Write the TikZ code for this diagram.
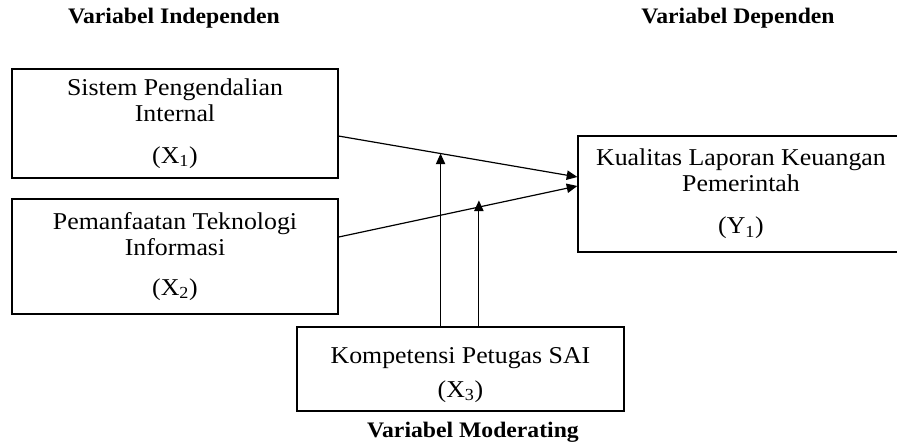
\documentclass[tikz,border=0pt]{standalone}
\usepackage{fontspec}
\setmainfont{Liberation Serif}[FakeStretch=1.07]
\usetikzlibrary{arrows.meta}
\begin{document}
\begin{tikzpicture}[x=0.75pt, y=-0.75pt, line width=0.9pt, >={Triangle[length=8pt,width=7pt]},
        varbox/.style={draw, rectangle, align=center, inner sep=0pt, minimum width=244.5pt,
            font=\fontsize{18.1pt}{19.5pt}\selectfont},
        heading/.style={anchor=base, font=\fontsize{16.6pt}{18pt}\selectfont\bfseries}]
        \useasboundingbox (0,0) rectangle (897,443);

        % Headings
        \node[heading] (indep) at (174,23) {Variabel Independen};
        \node[heading] (dep) at (738,23) {Variabel Dependen};
        \node[heading] (moder) at (473,437) {Variabel Moderating};

        % Nodes
        \node[varbox, minimum height=81.75pt] (X1) at (175,123.5) {Sistem Pengendalian\\Internal\\[12pt](X\textsubscript{1})};
        \node[varbox, minimum height=86.25pt] (X2) at (175,256.5) {Pemanfaatan Teknologi\\Informasi\\[10pt](X\textsubscript{2})};
        \node[varbox, minimum height=87pt] (Y1) at (741,194) {Kualitas Laporan Keuangan\\Pemerintah\\[12pt](Y\textsubscript{1})};
        \node[varbox, minimum height=63pt, minimum width=245.25pt, text height=46pt] (X3) at (460.5,369) {Kompetensi Petugas SAI\\[6pt](X\textsubscript{3})};

        % Arrows
        \draw[->] ([yshift=-9.4pt]X1.east) -- coordinate[pos=0.427] (m1) ([yshift=12.75pt]Y1.west);
        \draw[->] ([yshift=14.6pt]X2.east) -- coordinate[pos=0.5875] (m2) ([yshift=6pt]Y1.west);

        % Moderating links
        \draw[->] (X3.north -| m1) -- (m1);
        \draw[->] (X3.north -| m2) -- ([yshift=5pt]m2);
    \end{tikzpicture}
\end{document}
